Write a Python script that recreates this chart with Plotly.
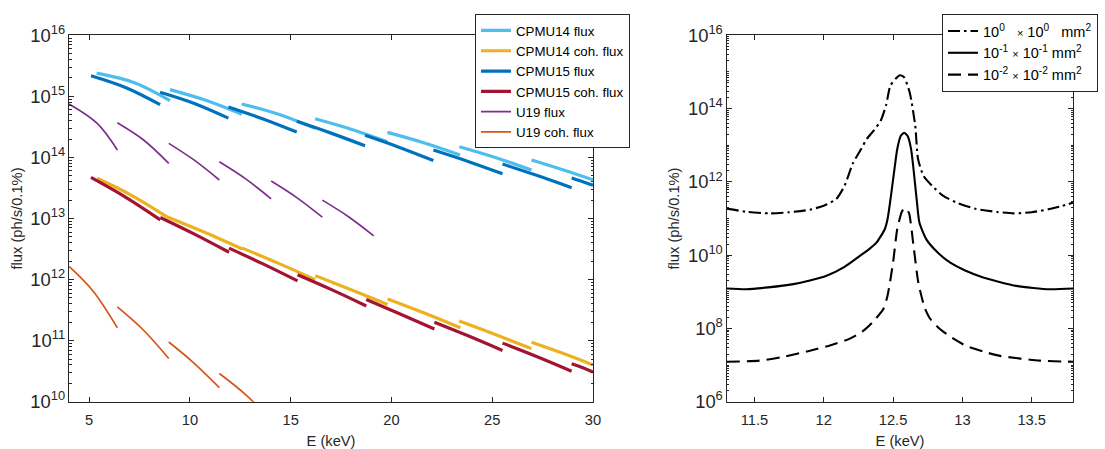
import plotly.graph_objects as go

# ---------------- Left panel data (segments per series) ----------------
cpmu14_flux_E = [[5.37, 7.28, 9.01], [9.01, 10.75, 12.57], [12.57, 14.4, 16.21], [16.21, 18.0, 19.8],
                 [19.8, 21.6, 23.4], [23.37, 25.15, 26.95], [26.95, 28.5, 30.0]]
cpmu14_flux_F = [[2.40e15, 1.66e15, 8.5e14], [1.29e15, 8.7e14, 5.1e14], [7.5e14, 5.1e14, 3.0e14],
                 [4.3e14, 2.9e14, 1.8e14], [2.57e14, 1.74e14, 1.1e14], [1.5e14, 1.0e14, 6.2e13],
                 [9.1e13, 6.3e13, 4.3e13]]

cpmu14_coh_E = [[5.40, 7.1, 8.85], [8.85, 10.7, 12.6], [12.6, 14.4, 16.22], [16.22, 18.0, 19.81],
                [19.81, 21.6, 23.42], [23.36, 25.15, 26.95], [26.95, 28.5, 30.0]]
cpmu14_coh_F = [[4.56e13, 2.4e13, 1.07e13], [1.07e13, 6.0e12, 3.16e12], [3.27e12, 1.84e12, 9.95e11],
                [1.16e12, 6.8e11, 3.9e11], [4.8e11, 2.85e11, 1.62e11], [2.09e11, 1.26e11, 7.4e10],
                [9.4e10, 6.2e10, 4.0e10]]

cpmu15_flux_E = [[5.09, 6.86, 8.52], [8.52, 10.25, 11.91], [11.91, 13.6, 15.3], [15.3, 17.0, 18.69],
                 [18.69, 20.4, 22.08], [22.08, 23.8, 25.51], [25.51, 27.2, 28.94], [28.94, 29.5, 30.0]]
cpmu15_flux_F = [[2.17e15, 1.37e15, 7.3e14], [1.17e15, 7.6e14, 4.4e14], [6.7e14, 4.3e14, 2.6e14],
                 [3.9e14, 2.5e14, 1.55e14], [2.3e14, 1.46e14, 8.9e13], [1.32e14, 8.6e13, 5.4e13],
                 [7.8e13, 5.1e13, 3.2e13], [4.6e13, 4.0e13, 3.5e13]]

cpmu15_coh_E = [[5.09, 6.8, 8.53], [8.53, 10.2, 11.94], [11.94, 13.6, 15.34], [15.34, 17.0, 18.75],
                [18.75, 20.4, 22.13], [22.13, 23.8, 25.51], [25.51, 27.2, 28.94], [28.94, 29.5, 30.0]]
cpmu15_coh_F = [[4.7e13, 2.24e13, 9.5e12], [1.04e13, 5.6e12, 2.8e12], [3.27e12, 1.82e12, 9.5e11],
                [1.2e12, 6.9e11, 3.7e11], [4.7e11, 2.75e11, 1.55e11], [2.0e11, 1.2e11, 6.9e10],
                [9.1e10, 5.5e10, 3.16e10], [4.2e10, 3.6e10, 3.05e10]]

u19_flux_E = [[4.0, 5.4, 6.4], [6.4, 7.7, 8.95], [8.95, 10.2, 11.46], [11.46, 12.75, 14.03],
              [14.03, 15.3, 16.57], [16.57, 17.85, 19.12]]
u19_flux_F = [[7.5e14, 3.6e14, 1.32e14], [3.7e14, 1.93e14, 8.0e13], [1.7e14, 9.1e13, 4.27e13],
              [8.5e13, 4.5e13, 2.1e13], [4.1e13, 2.2e13, 1.05e13], [2.0e13, 1.08e13, 5.2e12]]

u19_coh_E = [[4.0, 5.19, 6.4], [6.4, 7.7, 8.95], [8.95, 10.2, 11.46], [11.46, 12.75, 14.03]]
u19_coh_F = [[1.64e12, 6.5e11, 1.62e11], [3.56e11, 1.48e11, 5.1e10], [9.5e10, 4.3e10, 1.7e10],
             [2.9e10, 1.32e10, 5.0e9]]

left_names = ["CPMU14 flux", "CPMU14 coh. flux", "CPMU15 flux", "CPMU15 coh. flux", "U19 flux", "U19 coh. flux"]
left_colors = ["#4DBEEE", "#EDB120", "#0072BD", "#A2142F", "#7E2F8E", "#D95319"]

# ---------------- Right panel data ----------------
r_E1 = [11.30, 11.45, 11.61, 11.75, 11.90, 12.00, 12.09, 12.15, 12.21, 12.27, 12.31, 12.36, 12.41, 12.45,
        12.48, 12.52, 12.55, 12.58, 12.62, 12.66, 12.68, 12.72, 12.78, 12.86, 12.97, 13.10, 13.25, 13.37,
        13.50, 13.63, 13.72, 13.80]
r_F1 = [1.86e11, 1.51e11, 1.38e11, 1.48e11, 1.74e11, 2.24e11, 3.39e11, 7.8e11, 3.2e12, 7.9e12, 1.48e13,
        2.5e13, 4.6e13, 1.26e14, 4.2e14, 6.6e14, 8.1e14, 7.1e14, 2.75e14, 3.4e13, 4.2e12, 1.45e12,
        7.9e11, 4.2e11, 2.6e11, 1.82e11, 1.51e11, 1.38e11, 1.48e11, 1.82e11, 2.2e11, 2.75e11]

r_E2 = [11.30, 11.44, 11.60, 11.78, 11.90, 12.02, 12.15, 12.26, 12.33, 12.38, 12.44, 12.46, 12.485, 12.51,
        12.53, 12.555, 12.58, 12.605, 12.63, 12.67, 12.69, 12.74, 12.82, 12.91, 13.02, 13.15, 13.39, 13.63,
        13.80]
r_F2 = [1.23e9, 1.17e9, 1.32e9, 1.62e9, 2.04e9, 2.75e9, 4.8e9, 9.5e9, 1.48e10, 2.19e10, 5.1e10, 9.5e10,
        4.2e11, 2.24e12, 7.8e12, 1.78e13, 2.19e13, 1.78e13, 7.8e12, 3.4e11, 7.8e10, 2.7e10, 1.2e10,
        6.3e9, 3.8e9, 2.45e9, 1.45e9, 1.17e9, 1.23e9]

r_E3 = [11.30, 11.535, 11.70, 11.90, 12.05, 12.18, 12.28, 12.35, 12.43, 12.46, 12.50, 12.53, 12.565,
        12.59, 12.615, 12.646, 12.68, 12.70, 12.73, 12.77, 12.84, 12.93, 13.03, 13.15, 13.27, 13.56, 13.80]
r_F3 = [1.23e7, 1.32e7, 1.66e7, 2.45e7, 3.5e7, 5.1e7, 8.3e7, 1.45e8, 3.4e8, 7.8e8, 6.3e9, 5.1e10,
        1.58e11, 1.95e11, 1.4e11, 2.0e10, 2.0e9, 8.9e8, 3.5e8, 1.78e8, 9.5e7, 5.4e7, 3.3e7, 2.34e7,
        1.78e7, 1.32e7, 1.23e7]

TIMES = "<span style='font-size:11px'>\u00d7</span>"
NB = "\u00a0"
right_names = ["10<sup>0</sup>" + NB * 3 + TIMES + " 10<sup>0</sup>" + NB * 3 + "mm<sup>2</sup>",
               "10<sup>-1</sup> " + TIMES + " 10<sup>-1</sup> mm<sup>2</sup>",
               "10<sup>-2</sup> " + TIMES + " 10<sup>-2</sup> mm<sup>2</sup>"]
right_dashes = ["12px,4px,2.5px,4px", "solid", "13px,7px"]

# ---------------- Build figure ----------------
AX = "#262626"
FONT = "Liberation Sans, Arial, Helvetica, sans-serif"


def join(segs):
    out = []
    for i, s in enumerate(segs):
        if i:
            out.append(None)
        out.extend(s)
    return out


fig = go.Figure()
left_E = [cpmu14_flux_E, cpmu14_coh_E, cpmu15_flux_E, cpmu15_coh_E, u19_flux_E, u19_coh_E]
left_F = [cpmu14_flux_F, cpmu14_coh_F, cpmu15_flux_F, cpmu15_coh_F, u19_flux_F, u19_coh_F]
left_w = [3.2, 3.2, 3.2, 3.2, 1.7, 1.7]
for name, col, E, F, w in zip(left_names, left_colors, left_E, left_F, left_w):
    fig.add_trace(go.Scatter(x=join(E), y=join(F), mode="lines", name=name,
                             line=dict(color=col, width=w, shape="spline", smoothing=1.0),
                             xaxis="x", yaxis="y", legend="legend", connectgaps=False))

for name, E, F, d in zip(right_names, [r_E1, r_E2, r_E3], [r_F1, r_F2, r_F3], right_dashes):
    fig.add_trace(go.Scatter(x=E, y=F, mode="lines", name=name,
                             line=dict(color="black", width=2.1, dash=d, shape="spline", smoothing=0.6),
                             xaxis="x2", yaxis="y2", legend="legend2"))

common = dict(showline=True, linecolor=AX, linewidth=1, mirror="ticks", ticks="inside", ticklen=5,
              tickcolor=AX, tickwidth=1, showgrid=False, zeroline=False,
              tickfont=dict(size=14.7, color=AX, family=FONT))
minor = dict(ticks="inside", ticklen=2.5, tickcolor=AX, dtick="D1", showgrid=False)

W, H = 1105, 449
fig.update_layout(
    width=W, height=H,
    margin=dict(l=0, r=0, t=0, b=0, autoexpand=False),
    paper_bgcolor="white", plot_bgcolor="white",
    font=dict(family=FONT, color=AX),
    xaxis=dict(common, domain=[69 / W, 593 / W], range=[4, 30], tick0=5, dtick=5, ticklabelstandoff=5,
               title=dict(text="E (keV)", font=dict(size=14.7, color=AX), standoff=10), anchor="y"),
    yaxis=dict(common, domain=[1 - 401.7 / H, 1 - 35.3 / H], type="log", range=[10, 16], dtick=1,
               exponentformat="power", minor=minor,
               title=dict(text="flux (ph/s/0.1%)", font=dict(size=14.7, color=AX), standoff=4), anchor="x"),
    xaxis2=dict(common, domain=[726.7 / W, 1073.3 / W], range=[11.3, 13.8], tick0=11.5, dtick=0.5,
                ticklabelstandoff=5,
                title=dict(text="E (keV)", font=dict(size=14.7, color=AX), standoff=10), anchor="y2"),
    yaxis2=dict(common, domain=[1 - 401.7 / H, 1 - 35.3 / H], type="log", range=[6, 16], dtick=2,
                exponentformat="power", minor=minor,
                title=dict(text="flux (ph/s/0.1%)", font=dict(size=14.7, color=AX), standoff=4), anchor="x2"),
    legend=dict(x=475 / W, y=1 - 14.3 / H, xanchor="left", yanchor="top", bgcolor="white",
                bordercolor=AX, borderwidth=1, font=dict(size=13.3, color="black", family=FONT),
                tracegroupgap=0),
    legend2=dict(x=942 / W, y=1 - 14 / H, xanchor="left", yanchor="top", bgcolor="white",
                 bordercolor=AX, borderwidth=1, font=dict(size=14.5, color="black", family=FONT),
                 tracegroupgap=0),
    showlegend=True,
)

fig.write_html("out.html", config={"displayModeBar": False},
               post_script="document.body.style.margin='0px';document.body.style.overflow='hidden';")
